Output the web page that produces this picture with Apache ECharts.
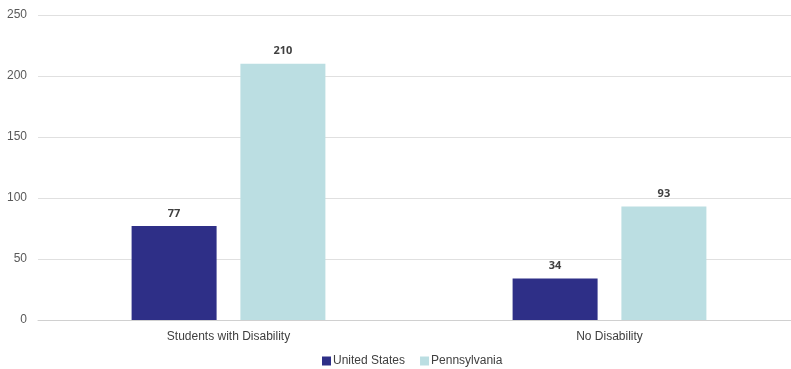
<!DOCTYPE html>
<html>
<head>
    <meta charset="utf-8">
    <title>ECharts</title>
    <script src="https://cdn.jsdelivr.net/npm/echarts@6/dist/echarts.min.js"></script>
    <style>
        html, body { margin: 0; padding: 0; background: #fff; overflow: hidden; }
    </style>
</head>
<body>
<!-- the chart is a bit wider than the window: the gridlines run off the right edge -->
<div id="main" style="width: 800px;height:369px;"></div>
<script type="text/javascript">
    var categories = ['Students with Disability', 'No Disability'];
    var usValues = [77, 34];
    var paValues = [210, 93];
    var seriesNames = ['United States', 'Pennsylvania'];

    var myChart = echarts.init(document.getElementById('main'));

    var labelStyle = {
        show: true,
        position: 'top',
        distance: 7,
        color: '#404040',
        fontFamily: 'Open Sans',
        fontWeight: 'bold',
        fontSize: 11
    };

    var option = {
        animation: false,
        textStyle: { fontFamily: 'Liberation Sans' },
        grid: { left: 38, top: 15, width: 762, height: 305 },
        legend: {
            data: seriesNames,
            top: 350,
            left: 317,
            itemWidth: 9,
            itemHeight: 9,
            itemGap: 15,
            icon: 'rect',
            textStyle: { color: '#404040', fontSize: 12, fontFamily: 'Liberation Sans', padding: [0, 0, 0, -3] }
        },
        xAxis: {
            type: 'category',
            data: categories,
            axisLine: { lineStyle: { color: '#d0d0d0' } },
            axisTick: { show: false },
            axisLabel: { color: '#404040', fontSize: 12, margin: 11 }
        },
        yAxis: {
            type: 'value',
            min: 0,
            max: 250,
            interval: 50,
            axisLine: { show: false },
            axisTick: { show: false },
            axisLabel: { color: '#595959', fontSize: 12, margin: 11 },
            splitLine: { lineStyle: { color: '#e0e0e0' } }
        },
        series: [
            {
                name: seriesNames[0],
                type: 'bar',
                data: usValues,
                barWidth: 85,
                barGap: '28%',
                itemStyle: { color: '#2e2f87' },
                label: labelStyle
            },
            {
                name: seriesNames[1],
                type: 'bar',
                data: paValues,
                barWidth: 85,
                itemStyle: { color: '#bbdee2' },
                label: labelStyle
            }
        ]
    };

    myChart.setOption(option);
</script>
</body>
</html>
